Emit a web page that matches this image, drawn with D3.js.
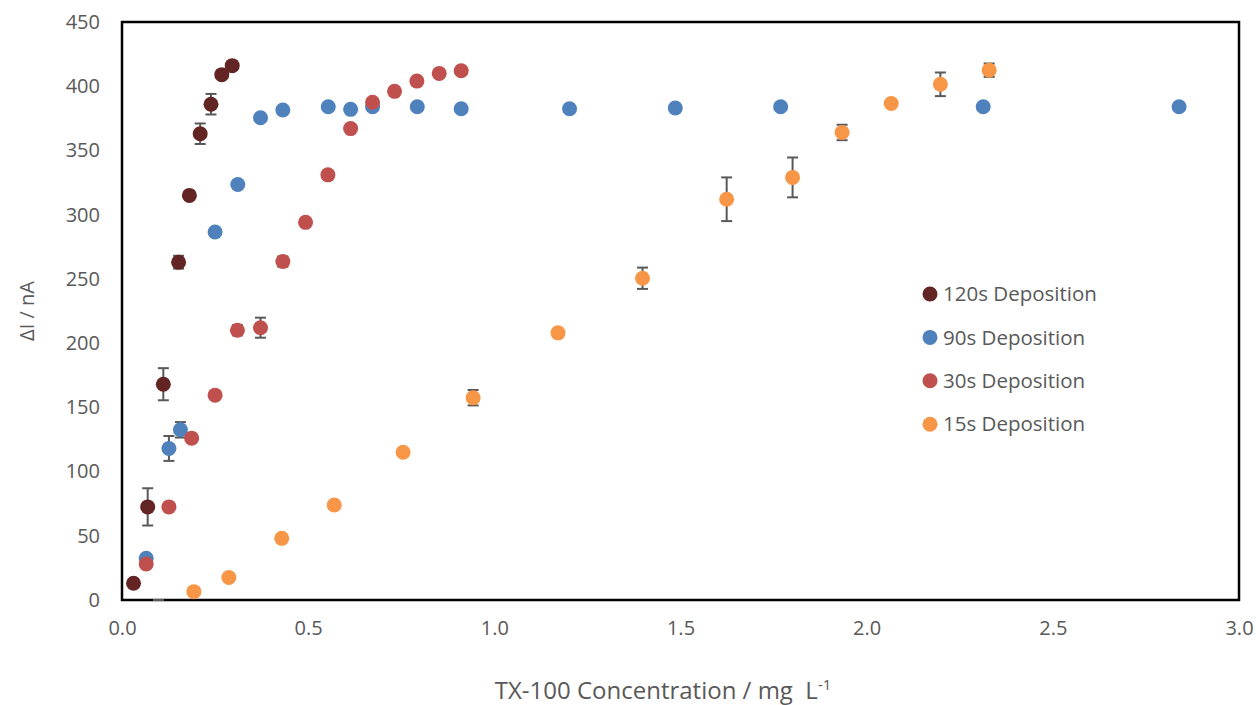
<!DOCTYPE html>
<html>
<head>
<meta charset="utf-8">
<script src="https://cdn.jsdelivr.net/npm/d3@7/dist/d3.min.js"></script>
<style>
  html, body { margin: 0; padding: 0; background: #ffffff; }
  svg { display: block; font-family: "Open Sans", "Noto Sans", sans-serif; }
</style>
</head>
<body>
<svg id="chart" width="1256" height="705"></svg>
<script>
// TX-100 concentration (mg L-1) vs current change (nA) for four deposition times
const x120 = [0.031, 0.069, 0.111, 0.152, 0.181, 0.210, 0.239, 0.268, 0.296];
const y120 = [13, 72.5, 168, 263, 315, 363, 386, 409, 416];
const e120 = [0, 14.5, 12.5, 5, 0, 8, 8, 0, 0];

const x90 = [0.065, 0.098, 0.126, 0.157, 0.250, 0.311, 0.372, 0.432, 0.554, 0.614, 0.673, 0.793, 0.911, 1.202, 1.486, 1.769, 2.313, 2.839];
const y90 = [32.5, -8, 118, 132.5, 286.5, 323.5, 375.5, 381.5, 384, 382, 384, 384, 382.5, 382.5, 383, 384, 384, 384];
const e90 = [0, 8, 9.7, 6, 0, 0, 0, 0, 0, 0, 0, 0, 0, 0, 0, 0, 0, 0];

const x30 = [0.065, 0.126, 0.187, 0.250, 0.310, 0.372, 0.432, 0.493, 0.553, 0.614, 0.673, 0.732, 0.792, 0.852, 0.911];
const y30 = [28, 72.5, 126, 159.5, 210, 212, 263.5, 294, 331, 367, 387.5, 396, 404, 410, 412];
const e30 = [0, 0, 0, 0, 4, 7.8, 4, 0, 3, 0, 0, 0, 0, 0, 0];

const x15 = [0.193, 0.287, 0.429, 0.570, 0.755, 0.943, 1.171, 1.398, 1.624, 1.801, 1.934, 2.066, 2.198, 2.329];
const y15 = [6.5, 17.5, 48, 74, 115, 157.5, 208, 250.5, 312, 329, 364, 386.5, 401.5, 412.5];
const e15 = [0, 0, 0, 0, 0, 6, 0, 8.3, 17, 15.5, 6, 0, 9.2, 5.2];

const seriesNames = ["120s Deposition", "90s Deposition", "30s Deposition", "15s Deposition"];
const seriesColors = ["#632523", "#4f81bd", "#c0504d", "#f79646"];

const xTicks = [0, 0.5, 1.0, 1.5, 2.0, 2.5, 3.0];
const yTicks = [0, 50, 100, 150, 200, 250, 300, 350, 400, 450];

const series = [
  { x: x120, y: y120, e: e120 },
  { x: x90, y: y90, e: e90 },
  { x: x30, y: y30, e: e30 },
  { x: x15, y: y15, e: e15 }
].map((s, i) => ({
  name: seriesNames[i],
  color: seriesColors[i],
  points: s.x.map((xv, j) => ({ x: xv, y: s.y[j], e: s.e[j] }))
}));

const svg = d3.select("#chart");
const plot = { left: 122, right: 1239, top: 22, bottom: 600 };

const x = d3.scaleLinear().domain([0, 3]).range([plot.left, plot.right]);
const y = d3.scaleLinear().domain([0, 450]).range([plot.bottom, plot.top]);

const textColor = "#595959";

// clipping regions for markers and error bars
const defs = svg.append("defs");
defs.append("clipPath").attr("id", "plotClip")
  .append("rect")
  .attr("x", plot.left).attr("y", plot.top)
  .attr("width", plot.right - plot.left).attr("height", plot.bottom - plot.top);
defs.append("clipPath").attr("id", "barClip")
  .append("rect")
  .attr("x", plot.left).attr("y", plot.top - 2)
  .attr("width", plot.right - plot.left).attr("height", plot.bottom - plot.top + 3);

// plot area frame
svg.append("rect")
  .attr("x", plot.left).attr("y", plot.top)
  .attr("width", plot.right - plot.left).attr("height", plot.bottom - plot.top)
  .attr("fill", "none").attr("stroke", "#000").attr("stroke-width", 2.5);

// y axis labels
const yAxis = d3.axisLeft(y).tickValues(yTicks).tickSize(0).tickPadding(22).tickFormat(d3.format("d"));
const gy = svg.append("g").attr("transform", `translate(${plot.left},0)`).call(yAxis);
gy.select(".domain").remove();
gy.selectAll("text").attr("fill", textColor).style("font-size", "20px")
  .style("font-family", "\"Open Sans\", sans-serif");

// x axis labels
const xAxis = d3.axisBottom(x).tickValues(xTicks).tickSize(0).tickPadding(21).tickFormat(d3.format(".1f"));
const gx = svg.append("g").attr("transform", `translate(0,${plot.bottom})`).call(xAxis);
gx.select(".domain").remove();
gx.selectAll("text").attr("fill", textColor).style("font-size", "20px")
  .style("font-family", "\"Open Sans\", sans-serif");

// axis titles
svg.append("text")
  .attr("transform", `translate(34,${(plot.top + plot.bottom) / 2}) rotate(-90)`)
  .attr("text-anchor", "middle")
  .attr("fill", textColor).style("font-size", "20px")
  .text("ΔI / nA");

const xt = svg.append("text")
  .attr("x", 663).attr("y", 699)
  .attr("text-anchor", "middle")
  .attr("fill", textColor).style("font-size", "24px");
xt.append("tspan").text("TX-100 Concentration / mg\u00a0\u00a0L");
xt.append("tspan").attr("dy", -9).style("font-size", "15px").text("-1");

// series: error bars then markers
const capHalf = 5.5;
series.forEach(s => {
  const g = svg.append("g");
  const withErr = s.points.filter(p => p.e > 0);
  const eb = g.append("g").attr("clip-path", "url(#barClip)")
    .attr("stroke", "#595959").attr("stroke-width", 2);
  withErr.forEach(p => {
    const cx = x(p.x), yt = y(p.y + p.e), yb = y(p.y - p.e);
    eb.append("line").attr("x1", cx).attr("x2", cx).attr("y1", yt).attr("y2", yb);
    eb.append("line").attr("x1", cx - capHalf).attr("x2", cx + capHalf).attr("y1", yt).attr("y2", yt);
    eb.append("line").attr("x1", cx - capHalf).attr("x2", cx + capHalf).attr("y1", yb).attr("y2", yb);
  });
  g.append("g").attr("clip-path", "url(#plotClip)")
    .selectAll("circle").data(s.points).join("circle")
    .attr("cx", d => x(d.x)).attr("cy", d => y(d.y)).attr("r", 7.5)
    .attr("fill", s.color);
});

// legend
const legend = svg.append("g");
series.forEach((s, i) => {
  const ly = 294 + i * 43.4;
  legend.append("circle").attr("cx", 930).attr("cy", ly).attr("r", 7.5).attr("fill", s.color);
  legend.append("text").attr("x", 943).attr("y", ly).attr("dy", "0.35em")
    .attr("fill", textColor).style("font-size", "20.5px").text(s.name);
});
</script>
</body>
</html>
